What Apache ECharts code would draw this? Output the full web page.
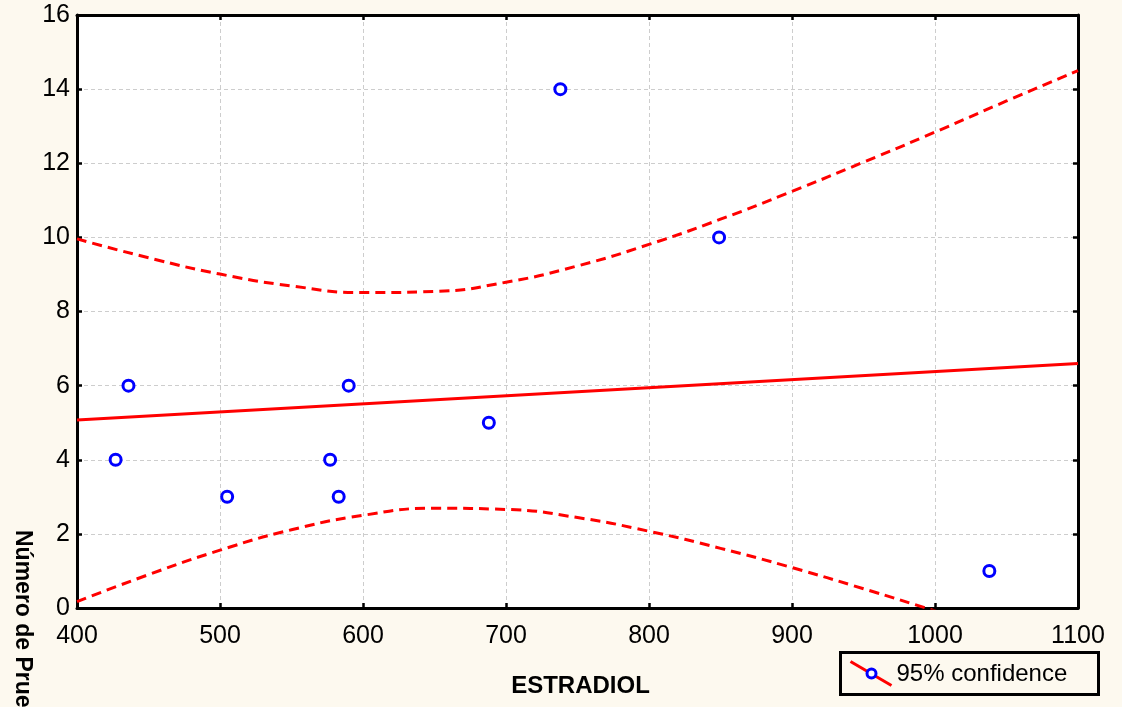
<!DOCTYPE html>
<html>
<head>
<meta charset="utf-8">
<script src="https://cdn.jsdelivr.net/npm/echarts@6/dist/echarts.min.js"></script>
<style>
  html, body { margin: 0; padding: 0; background: #FDF9EF; }
  #chart { width: 1122px; height: 707px; }
</style>
</head>
<body>
<div id="chart"></div>
<script>
// Observations: estradiol level vs. number of tests
const estradiol = [427, 436, 505, 577, 583, 590, 688, 738, 849, 1038];
const pruebas   = [4, 6, 3, 4, 3, 6, 5, 14, 10, 1];

// Fitted regression line (end points)
const fitX = [400, 1100];
const fitY = [5.07, 6.60];

// 95% confidence band
const bandX = [400, 450, 500, 550, 600, 650, 700, 750, 800, 850, 900, 950, 1000, 1050, 1100];
const bandUpper = [9.96, 9.45, 9.01, 8.69, 8.51, 8.54, 8.79, 9.23, 9.81, 10.49, 11.24, 12.03, 12.84, 13.68, 14.50];
const bandLower = [0.17, 0.90, 1.56, 2.11, 2.50, 2.69, 2.66, 2.44, 2.07, 1.61, 1.09, 0.52, -0.08, -0.70, -1.33];

const xTicks = [400, 500, 600, 700, 800, 900, 1000, 1100];
const yTicks = [0, 2, 4, 6, 8, 10, 12, 14, 16];

const pair = (xs, ys) => xs.map((x, i) => [x, ys[i]]);

const FONT = '"Liberation Sans", Arial, sans-serif';
const axisLineStyle = { color: '#000', width: 3 };
const tickStyle = { inside: true, length: 5, lineStyle: { color: '#000', width: 2.5 } };
const gridLine = { show: true, lineStyle: { color: '#CDCDCD', width: 1, type: [4, 3] } };

const xBase = { type: 'value', min: xTicks[0], max: xTicks[xTicks.length - 1], interval: 100 };
const yBase = { type: 'value', min: yTicks[0], max: yTicks[yTicks.length - 1], interval: 2 };

const chart = echarts.init(document.getElementById('chart'), null, { renderer: 'canvas' });

chart.setOption({
  backgroundColor: '#FDF9EF',
  animation: false,
  grid: { left: 77, right: 44, top: 15, bottom: 99, show: true, backgroundColor: '#FFFFFF', borderWidth: 0 },
  xAxis: [
    Object.assign({}, xBase, {
      position: 'bottom',
      axisLine: { show: true, onZero: false, lineStyle: axisLineStyle },
      axisTick: tickStyle,
      axisLabel: { color: '#000', fontSize: 25, fontFamily: FONT, margin: 16, formatter: v => String(v) },
      splitLine: gridLine,
      name: 'ESTRADIOL',
      nameLocation: 'middle',
      nameGap: 66,
      nameTextStyle: { color: '#000', fontSize: 24, fontWeight: 'bold', fontFamily: FONT, padding: [0, 0, 0, 6] }
    }),
    Object.assign({}, xBase, {
      position: 'top',
      axisLine: { show: true, onZero: false, lineStyle: axisLineStyle },
      axisTick: tickStyle,
      axisLabel: { show: false },
      splitLine: { show: false }
    })
  ],
  yAxis: [
    Object.assign({}, yBase, {
      position: 'left',
      axisLine: { show: true, onZero: false, lineStyle: axisLineStyle },
      axisTick: tickStyle,
      axisLabel: { color: '#000', fontSize: 25, fontFamily: FONT, margin: 7 },
      splitLine: gridLine
    }),
    Object.assign({}, yBase, {
      position: 'right',
      axisLine: { show: true, onZero: false, lineStyle: axisLineStyle },
      axisTick: tickStyle,
      axisLabel: { show: false },
      splitLine: { show: false }
    })
  ],
  series: [
    {
      name: 'upper',
      type: 'line',
      data: pair(bandX, bandUpper),
      smooth: true,
      symbol: 'none',
      clip: true,
      lineStyle: { color: '#FF0000', width: 3, type: [10, 6] },
      z: 3
    },
    {
      name: 'lower',
      type: 'line',
      data: pair(bandX, bandLower),
      smooth: true,
      symbol: 'none',
      clip: true,
      lineStyle: { color: '#FF0000', width: 3, type: [10, 6] },
      z: 3
    },
    {
      name: 'fit',
      type: 'line',
      data: pair(fitX, fitY),
      symbol: 'none',
      clip: true,
      lineStyle: { color: '#FF0000', width: 3 },
      z: 3
    },
    {
      name: '95% confidence',
      type: 'scatter',
      data: pair(estradiol, pruebas),
      symbol: 'circle',
      symbolSize: 11,
      itemStyle: { color: '#FFFFFF', borderColor: '#0000FF', borderWidth: 3, opacity: 1 },
      z: 5
    }
  ],
  graphic: [
    {
      type: 'text',
      left: 11,
      top: 530,
      rotation: -Math.PI / 2,
      originX: 0,
      originY: 0,
      style: {
        text: 'Número de Pruebas',
        fill: '#000',
        font: 'bold 23px ' + FONT,
        textVerticalAlign: 'middle'
      }
    },
    {
      type: 'group',
      left: 839,
      top: 651,
      children: [
        { type: 'rect', shape: { x: 0, y: 0, width: 258, height: 42 },
          style: { fill: 'transparent', stroke: '#000', lineWidth: 3 } },
        { type: 'line', shape: { x1: 10, y1: 9, x2: 51, y2: 33 },
          style: { stroke: '#FF0000', lineWidth: 3 } },
        { type: 'circle', shape: { cx: 31, cy: 21, r: 4.5 },
          style: { fill: '#FFFFFF', stroke: '#0000FF', lineWidth: 3 } },
        { type: 'text', x: 56, y: 22,
          style: { text: '95% confidence', fill: '#000', font: '24px ' + FONT, textVerticalAlign: 'middle' } }
      ]
    }
  ]
});
</script>
</body>
</html>
